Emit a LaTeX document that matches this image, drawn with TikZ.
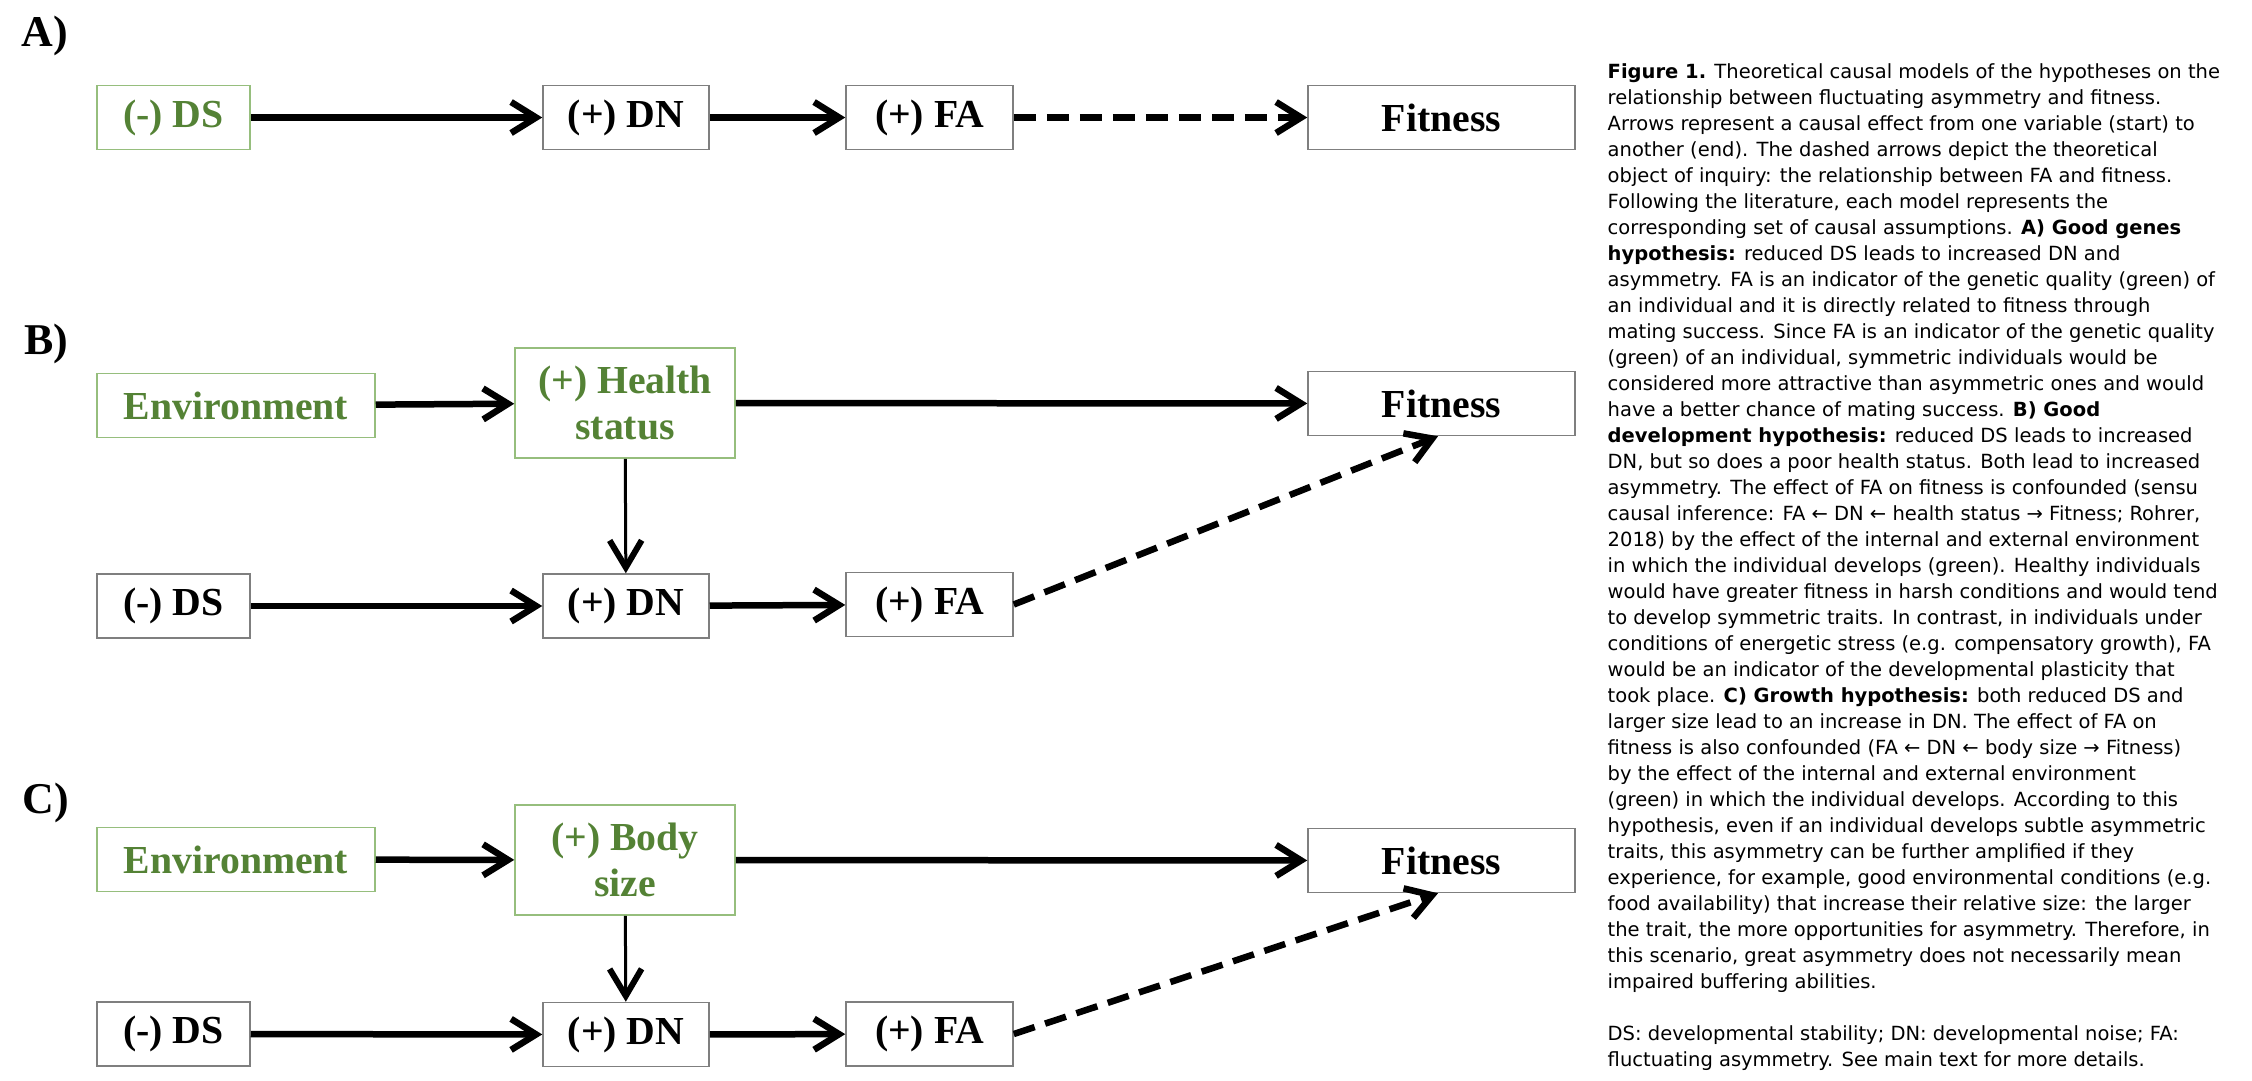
\documentclass[tikz,border=0pt]{standalone}
\usepackage{fontspec}
\setmainfont{Liberation Serif}
\newfontfamily\capfont{DejaVu Sans}
\usetikzlibrary{arrows.meta}
\definecolor{boxGray}{RGB}{127,127,127}
\definecolor{envGreen}{RGB}{84,130,53}
\definecolor{edgeGreen}{RGB}{150,190,125}

\begin{document}
\begin{tikzpicture}[x=0.1mm, y=-0.1mm,
        b/.style={rectangle, draw=boxGray, line width=0.15mm, align=center, inner sep=0pt,
            font=\fontsize{11.3}{13.3}\selectfont\bfseries, minimum height=6.4mm},
        g/.style={b, draw=edgeGreen, text=envGreen},
        arr/.style={-{Straight Barb[length=2.5mm, width=3.1mm]}, line width=0.65mm},
        varr/.style={-{Straight Barb[length=2.7mm, width=3.2mm, line width=0.6mm]}, line width=0.3mm},
        darr/.style={arr, dash pattern=on 2.2mm off 1.1mm},
        lab/.style={font=\fontsize{12.5}{15}\selectfont\bfseries}
    ]
    \useasboundingbox (0,0) rectangle (2252,1080);
    % A) good genes
    \node[lab] (labA) at (45,36) {A)};
    \node[g, minimum width=15.3mm] (dsA) at (173.5,117.5) {(-) DS};
    \node[b, minimum width=16.6mm] (dnA) at (626,117.5) {(+) DN};
    \node[b, minimum width=16.7mm] (faA) at (929.5,117.5) {(+) FA};
    \node[b, minimum width=26.7mm] (fitA) at (1441.5,117.5) {Fitness};
    \draw[arr] (dsA) -- (dnA);
    \draw[arr] (dnA) -- (faA);
    \draw[darr] (faA) -- (fitA);
    % B) good development
    \node[lab] (labB) at (46,344) {B)};
    \node[g, minimum width=27.8mm] (envB) at (236,405.5) {Environment};
    \node[g, minimum width=22mm, minimum height=11mm] (hsB) at (625,403) {(+) Health\\status};
    \node[b, minimum width=26.7mm] (fitB) at (1441.5,403.5) {Fitness};
    \node[b, minimum width=15.3mm] (dsB) at (173.5,606) {(-) DS};
    \node[b, minimum width=16.6mm] (dnB) at (626,606) {(+) DN};
    \node[b, minimum width=16.7mm] (faB) at (929.5,604.5) {(+) FA};
    \draw[arr] (envB) -- (hsB);
    \draw[arr] (hsB) -- (fitB);
    \draw[varr] (hsB) -- (dnB);
    \draw[arr] (dsB) -- (dnB);
    \draw[arr] (dnB) -- (faB);
    \draw[darr] (faB.east) -- ([xshift=-0.35mm]fitB.south);
    % C) growth
    \node[lab] (labC) at (46,803) {C)};
    \node[g, minimum width=27.8mm] (envC) at (236,859.5) {Environment};
    \node[g, minimum width=22mm, minimum height=11mm] (bsC) at (625,860) {(+) Body\\size};
    \node[b, minimum width=26.7mm] (fitC) at (1441.5,860.5) {Fitness};
    \node[b, minimum width=15.3mm] (dsC) at (173.5,1034) {(-) DS};
    \node[b, minimum width=16.6mm] (dnC) at (626,1034.5) {(+) DN};
    \node[b, minimum width=16.7mm] (faC) at (929.5,1034) {(+) FA};
    \draw[arr] (envC) -- (bsC);
    \draw[arr] (bsC) -- (fitC);
    \draw[varr] (bsC) -- (dnC);
    \draw[arr] (dsC) -- (dnC);
    \draw[arr] (dnC) -- (faC);
    \draw[darr] (faC.east) -- ([xshift=-0.35mm]fitC.south);
    % caption
    \node[anchor=north west, inner sep=0pt, align=left,
        font=\capfont\fontsize{5.55}{7.4}\selectfont] (caption) at (1607,63) {%
        \textbf{Figure 1.} Theoretical causal models of the hypotheses on the\\
        relationship between fluctuating asymmetry and fitness.\\
        Arrows represent a causal effect from one variable (start) to\\
        another (end). The dashed arrows depict the theoretical\\
        object of inquiry: the relationship between FA and fitness.\\
        Following the literature, each model represents the\\
        corresponding set of causal assumptions. \textbf{A) Good genes}\\
        \textbf{hypothesis:} reduced DS leads to increased DN and\\
        asymmetry. FA is an indicator of the genetic quality (green) of\\
        an individual and it is directly related to fitness through\\
        mating success. Since FA is an indicator of the genetic quality\\
        (green) of an individual, symmetric individuals would be\\
        considered more attractive than asymmetric ones and would\\
        have a better chance of mating success. \textbf{B) Good}\\
        \textbf{development hypothesis:} reduced DS leads to increased\\
        DN, but so does a poor health status. Both lead to increased\\
        asymmetry. The effect of FA on fitness is confounded (sensu\\
        causal inference: FA ← DN ← health status → Fitness; Rohrer,\\
        2018) by the effect of the internal and external environment\\
        in which the individual develops (green). Healthy individuals\\
        would have greater fitness in harsh conditions and would tend\\
        to develop symmetric traits. In contrast, in individuals under\\
        conditions of energetic stress (e.g. compensatory growth), FA\\
        would be an indicator of the developmental plasticity that\\
        took place. \textbf{C) Growth hypothesis:} both reduced DS and\\
        larger size lead to an increase in DN. The effect of FA on\\
        fitness is also confounded (FA ← DN ← body size → Fitness)\\
        by the effect of the internal and external environment\\
        (green) in which the individual develops. According to this\\
        hypothesis, even if an individual develops subtle asymmetric\\
        traits, this asymmetry can be further amplified if they\\
        experience, for example, good environmental conditions (e.g.\\
        food availability) that increase their relative size: the larger\\
        the trait, the more opportunities for asymmetry. Therefore, in\\
        this scenario, great asymmetry does not necessarily mean\\
        impaired buffering abilities.\\[7.4pt]
        DS: developmental stability; DN: developmental noise; FA:\\
        fluctuating asymmetry. See main text for more details.};
\end{tikzpicture}
\end{document}
